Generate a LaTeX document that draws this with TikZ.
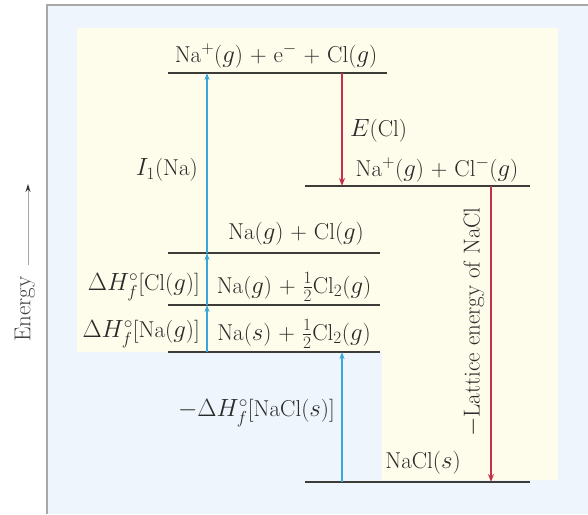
\documentclass[tikz,border=0pt]{standalone}
\usetikzlibrary{arrows.meta}
\definecolor{bgblue}{HTML}{EEF5FC}
\definecolor{cream}{HTML}{FEFCEA}
\definecolor{levelc}{HTML}{3C3C38}
\definecolor{upblue}{HTML}{3AA6D8}
\definecolor{downred}{HTML}{C8304A}
\definecolor{txt}{HTML}{2A2A2A}
\definecolor{framec}{HTML}{A8A8A8}
\tikzset{
  level/.style={draw=levelc, line width=2.6pt},
  lbl/.style={text=txt, inner sep=1pt, font=\fontsize{23}{26}\selectfont},
  uparrow/.style={draw=upblue, line width=2.2pt, -{Stealth[length=7pt,width=5pt]}},
  downarrow/.style={draw=downred, line width=1.5pt, -{Stealth[length=8pt,width=6pt]}},
  energyarrow/.style={draw=gray!70, line width=1pt, -{Stealth[length=8pt,width=5pt,color=black!80]}},
}
\begin{document}
\begin{tikzpicture}[x=1pt,y=-1pt]
\useasboundingbox (0,0) rectangle (588,514);
% backgrounds
\fill[bgblue] (47,5) rectangle (588,514);
\draw[framec, line width=2pt] (47,514) -- (47,5) -- (588,5);
\fill[cream] (77,28) -- (558,28) -- (558,480) -- (382,480) -- (382,352) -- (77,352) -- cycle;
% energy axis
\coordinate (eb) at (28,265);
\coordinate (et) at (28,184);
\draw[energyarrow] (eb) -- (et);
\node[lbl, rotate=90, text=black!75] (energy) at (25,309) {Energy};
% level end points
\coordinate (l1a) at (168,73);  \coordinate (l1b) at (387,73);
\coordinate (l2a) at (305,186); \coordinate (l2b) at (530,186);
\coordinate (l3a) at (168,253); \coordinate (l3b) at (380,253);
\coordinate (l4a) at (168,305); \coordinate (l4b) at (380,305);
\coordinate (l5a) at (168,352); \coordinate (l5b) at (380,352);
\coordinate (l6a) at (305,482); \coordinate (l6b) at (530,482);
\draw[level] (l1a) -- (l1b);
\draw[level] (l2a) -- (l2b);
\draw[level] (l3a) -- (l3b);
\draw[level] (l4a) -- (l4b);
\draw[level] (l5a) -- (l5b);
\draw[level] (l6a) -- (l6b);
% level labels
\node[lbl] (t1) at (276,56) {Na$^+$($g$) + e$^-$ + Cl($g$)};
\node[lbl] (t2) at (437,170) {Na$^+$($g$) + Cl$^-$($g$)};
\node[lbl] (t3) at (296,234) {Na($g$) + Cl($g$)};
\node[lbl] (t4) at (294,287) {Na($g$) + $\frac{1}{2}$Cl$_2$($g$)};
\node[lbl] (t5) at (294,334) {Na($s$) + $\frac{1}{2}$Cl$_2$($g$)};
\node[lbl] (t6) at (423,463) {NaCl($s$)};
% arrow points
\coordinate (a5) at (207,352);
\coordinate (a4) at (207,305);
\coordinate (a3) at (207,253);
\coordinate (a1) at (207,73);
\coordinate (r1) at (342,73);
\coordinate (r2) at (342,186);
\coordinate (q2) at (491,186);
\coordinate (q6) at (491,482);
\coordinate (b6) at (342,482);
\coordinate (b5) at (342,352);
\draw[uparrow] (a5) -- (a4);
\draw[uparrow] (a4) -- (a3);
\draw[uparrow] (a3) -- (a1);
\draw[downarrow] (r1) -- (r2);
\draw[downarrow] (q2) -- (q6);
\draw[uparrow] (b6) -- (b5);
% arrow labels
\node[lbl, anchor=east] (i1) at (199,170) {$I_1$(Na)};
\node[lbl, anchor=west] (ecl) at (349,131) {$E$(Cl)};
\node[lbl, anchor=east] (hcl) at (201,287) {$\Delta H^{\circ}_{f}$[Cl($g$)]};
\node[lbl, anchor=east] (hna) at (201,334) {$\Delta H^{\circ}_{f}$[Na($g$)]};
\node[lbl, anchor=east] (hnacl) at (336,413) {$-\Delta H^{\circ}_{f}$[NaCl($s$)]};
\node[lbl, rotate=90] (lat) at (474,322) {$-$Lattice energy of NaCl};
\end{tikzpicture}
\end{document}
